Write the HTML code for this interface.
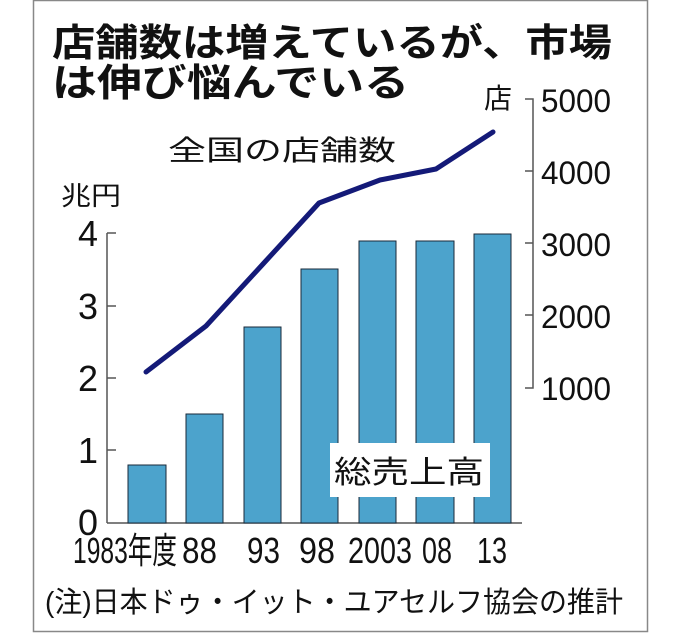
<!DOCTYPE html>
<html><head><meta charset="utf-8"><style>
html,body{margin:0;padding:0;background:#fff;}
svg{display:block;}
text{font-family:"Liberation Sans","Noto Sans CJK JP",sans-serif;fill:#111;}
</style></head><body>
<svg width="680" height="634" viewBox="0 0 680 634">
<rect x="33.5" y="0.5" width="614" height="631" fill="#fff" stroke="#888" stroke-width="1.5"/>
<text x="52" y="56" font-size="38" font-weight="bold" textLength="560" lengthAdjust="spacingAndGlyphs">店舗数は増えているが、市場</text>
<text x="52" y="96" font-size="38" font-weight="bold" textLength="357" lengthAdjust="spacingAndGlyphs">は伸び悩んでいる</text>
<text x="168" y="160" font-size="28" textLength="228" lengthAdjust="spacingAndGlyphs">全国の店舗数</text>
<text x="61" y="205" font-size="26" textLength="60" lengthAdjust="spacingAndGlyphs">兆円</text>
<text x="484" y="108" font-size="28">店</text>
<g stroke="#555" stroke-width="1.5" fill="none">
<line x1="107" y1="233" x2="107" y2="523"/>
<line x1="107" y1="233" x2="116" y2="233"/>
<line x1="107" y1="306" x2="116" y2="306"/>
<line x1="107" y1="378" x2="116" y2="378"/>
<line x1="107" y1="450" x2="116" y2="450"/>
<line x1="107" y1="523" x2="522" y2="523"/>
<path d="M525 99 H533 V388 H525 M525 171 H533 M525 243 H533 M525 315 H533"/>
</g>
<g font-size="36">
<text x="78" y="246" textLength="20" lengthAdjust="spacingAndGlyphs">4</text>
<text x="78" y="319" textLength="20" lengthAdjust="spacingAndGlyphs">3</text>
<text x="78" y="391" textLength="20" lengthAdjust="spacingAndGlyphs">2</text>
<text x="78" y="463" textLength="20" lengthAdjust="spacingAndGlyphs">1</text>
<text x="78" y="535" textLength="20" lengthAdjust="spacingAndGlyphs">0</text>
</g>
<g font-size="32">
<text x="541" y="112" textLength="70" lengthAdjust="spacingAndGlyphs">5000</text>
<text x="541" y="184" textLength="70" lengthAdjust="spacingAndGlyphs">4000</text>
<text x="541" y="256" textLength="70" lengthAdjust="spacingAndGlyphs">3000</text>
<text x="541" y="328" textLength="70" lengthAdjust="spacingAndGlyphs">2000</text>
<text x="541" y="400" textLength="70" lengthAdjust="spacingAndGlyphs">1000</text>
</g>
<g fill="#4ca3cc" stroke="#1a2a3a" stroke-width="1">
<rect x="128" y="465" width="38" height="58"/>
<rect x="186" y="414" width="37" height="109"/>
<rect x="244" y="327" width="37" height="196"/>
<rect x="301" y="269" width="37" height="254"/>
<rect x="359" y="241" width="37" height="282"/>
<rect x="416" y="241" width="38" height="282"/>
<rect x="474" y="234" width="37" height="289"/>
</g>
<rect x="330" y="443" width="160" height="54" fill="#fff"/>
<text x="334" y="483" font-size="31" textLength="150" lengthAdjust="spacingAndGlyphs">総売上高</text>
<polyline points="146,372 206,326 263,264 319,203 380,180 436,169 493,132" fill="none" stroke="#141a78" stroke-width="5" stroke-linejoin="round" stroke-linecap="round"/>
<g font-size="36">
<text x="73" y="563" textLength="104" lengthAdjust="spacingAndGlyphs">1983年度</text>
<text x="182" y="563" textLength="35" lengthAdjust="spacingAndGlyphs">88</text>
<text x="247" y="563" textLength="33" lengthAdjust="spacingAndGlyphs">93</text>
<text x="299" y="563" textLength="36" lengthAdjust="spacingAndGlyphs">98</text>
<text x="348" y="563" textLength="64" lengthAdjust="spacingAndGlyphs">2003</text>
<text x="422" y="563" textLength="30" lengthAdjust="spacingAndGlyphs">08</text>
<text x="477" y="563" textLength="30" lengthAdjust="spacingAndGlyphs">13</text>
</g>
<text x="45" y="612" font-size="29" textLength="578" lengthAdjust="spacingAndGlyphs">(注)日本ドゥ・イット・ユアセルフ協会の推計</text>
</svg>
</body></html>
